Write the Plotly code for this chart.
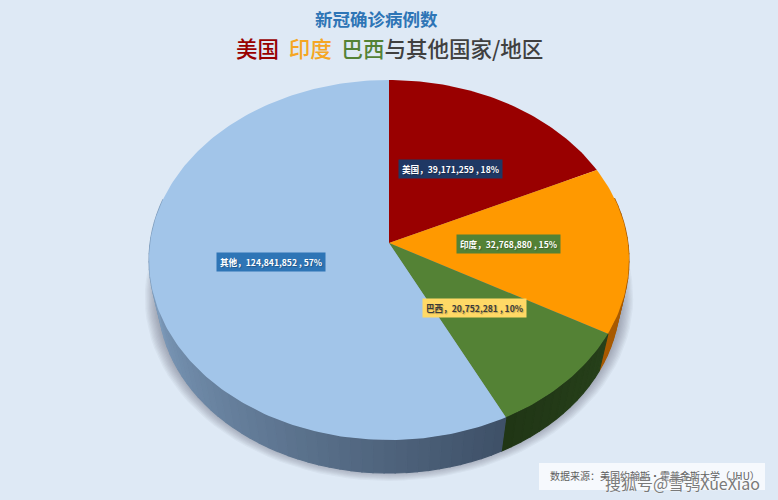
import math
import plotly.graph_objects as go

# ---- data ----
categories = ["美国", "印度", "巴西", "其他"]
cases = [39171259, 32768880, 20752281, 124841852]
top_colors = ["#990000", "#FF9900", "#548235", "#A2C5E9"]
side_start = ["#6b0000", "#a85a00", "#26401a", "#7f9dbd"]
side_end = ["#6b0000", "#a85a00", "#203515", "#3f5168"]
label_bg = ["#1F3864", "#548235", "#FFD966", "#2E75B6"]
label_fg = ["#FFFFFF", "#FFFFFF", "#3A3A3A", "#FFFFFF"]

W, H = 778, 500
CX, AY, A, B, K = 389, 243, 238.9, 178.4, 0.0945   # perspective of the disc
VY, S = 1265, 0.96                                  # extrusion towards vanishing point


def top(r, deg):
    t = math.radians(deg)
    u, v = r * math.sin(t), r * math.cos(t)
    d = 1 + K * v
    return CX + A * u / d, AY - B * v / d


def bottom(r, deg):
    x, y = top(r, deg)
    return CX + S * (x - CX), VY + S * (y - VY)


def mix(c1, c2, f):
    a = [int(c1[i:i + 2], 16) for i in (1, 3, 5)]
    b = [int(c2[i:i + 2], 16) for i in (1, 3, 5)]
    return "rgb(%d,%d,%d)" % tuple(round(p + (q - p) * f) for p, q in zip(a, b))


fig = go.Figure()


def poly(xs, ys, color, line=None):
    fig.add_trace(go.Scatter(x=xs, y=ys, mode="lines", fill="toself", fillcolor=color,
                             line=dict(width=1.2 if line else 0, color=line or color),
                             hoverinfo="skip", showlegend=False))


# soft ground shadow
for i in range(14):
    grow = 1.06 - i * 0.0055
    pts = [bottom(1, d) for d in range(0, 361, 3)]
    xs = [CX + grow * (p[0] - CX) for p in pts]
    ys = [275 + grow * (p[1] - 275) - 4 for p in pts]
    poly(xs, ys, "rgba(70,85,105,0.05)")

total = sum(cases)
angles = [0]
for c in cases:
    angles.append(angles[-1] + 360 * c / total)

# side wall
for i in range(len(cases)):
    a0, a1 = angles[i], angles[i + 1]
    n = max(2, int((a1 - a0) / 2.5))
    for j in range(n):
        d0 = a0 + (a1 - a0) * j / n
        d1 = a0 + (a1 - a0) * (j + 1) / n
        mid = (d0 + d1) / 2
        if math.cos(math.radians(mid)) > 0.25:
            continue
        p = [top(1, d0), top(1, d1), bottom(1, d1), bottom(1, d0)]
        f = abs(mid - 155) / 105 if i == 3 else j / n
        f = 1 - min(1, f) if i == 3 else f
        c = mix(side_start[i], side_end[i], f)
        poly([q[0] for q in p] + [p[0][0]], [q[1] for q in p] + [p[0][1]], c, c)

# top face
for i in range(len(cases)):
    a0, a1 = angles[i], angles[i + 1]
    n = max(4, int(a1 - a0))
    pts = [top(1, a0 + (a1 - a0) * j / n) for j in range(n + 1)]
    xs = [top(0, 0)[0]] + [p[0] for p in pts] + [top(0, 0)[0]]
    ys = [top(0, 0)[1]] + [p[1] for p in pts] + [top(0, 0)[1]]
    poly(xs, ys, top_colors[i])

# data labels
for i, (name, val) in enumerate(zip(categories, cases)):
    x, y = top(0.5, (angles[i] + angles[i + 1]) / 2)
    pct = round(100 * val / total)
    fig.add_annotation(x=x, y=y, xref="x", yref="y", showarrow=False, yshift=2,
                       text=f"{name}，{val:,} , {pct}%",
                       bgcolor=label_bg[i], borderpad=3,
                       font=dict(family="Noto Sans CJK SC, Open Sans", size=8.6, color=label_fg[i],
                                 weight="bold", shadow="1px 1px 1px rgba(0,0,0,0.25)"))

t_font = "Noto Sans CJK SC"
fig.add_annotation(x=376, y=18, xref="x", yref="y", showarrow=False, text="<b>新冠确诊病例数</b>",
                   font=dict(family=t_font, size=17.5, color="#2E75B6"))
fig.add_annotation(x=389, y=47, xref="x", yref="y", showarrow=False,
                   text=("<span style='color:#990000'>美国</span>&nbsp;&nbsp;"
                         "<span style='color:#F5A623'>印度</span>&nbsp;&nbsp;"
                         "<span style='color:#548235'>巴西</span>"
                         "<span style='color:#404040'>与其他国家/地区</span>"),
                   font=dict(family=t_font, size=21.5, weight=500))

# source box
fig.add_shape(type="rect", x0=539, x1=765, y0=463, y1=490, xref="x", yref="y",
              fillcolor="#F6F9FD", line_width=0, layer="above")
fig.add_annotation(x=655, y=475, xref="x", yref="y", showarrow=False,
                   text="数据来源：美国约翰斯·霍普金斯大学（JHU）",
                   font=dict(family=t_font, size=10, color="#606060"))
fig.add_annotation(x=682, y=483, xref="x", yref="y", showarrow=False,
                   text="搜狐号@雪鸮XueXiao",
                   font=dict(family=t_font, size=16, color="#7a7a7a",
                             shadow="0 0 2px #ffffff"))

fig.update_layout(
    width=W, height=H, margin=dict(l=0, r=0, t=0, b=0),
    paper_bgcolor="#DEE9F5", plot_bgcolor="#DEE9F5", showlegend=False,
    xaxis=dict(range=[0, W], visible=False, fixedrange=True),
    yaxis=dict(range=[H, 0], visible=False, fixedrange=True),
)
fig.write_html("out.html", config={"displayModeBar": False},
               post_script="document.body.style.margin='0';document.body.style.overflow='hidden';")
